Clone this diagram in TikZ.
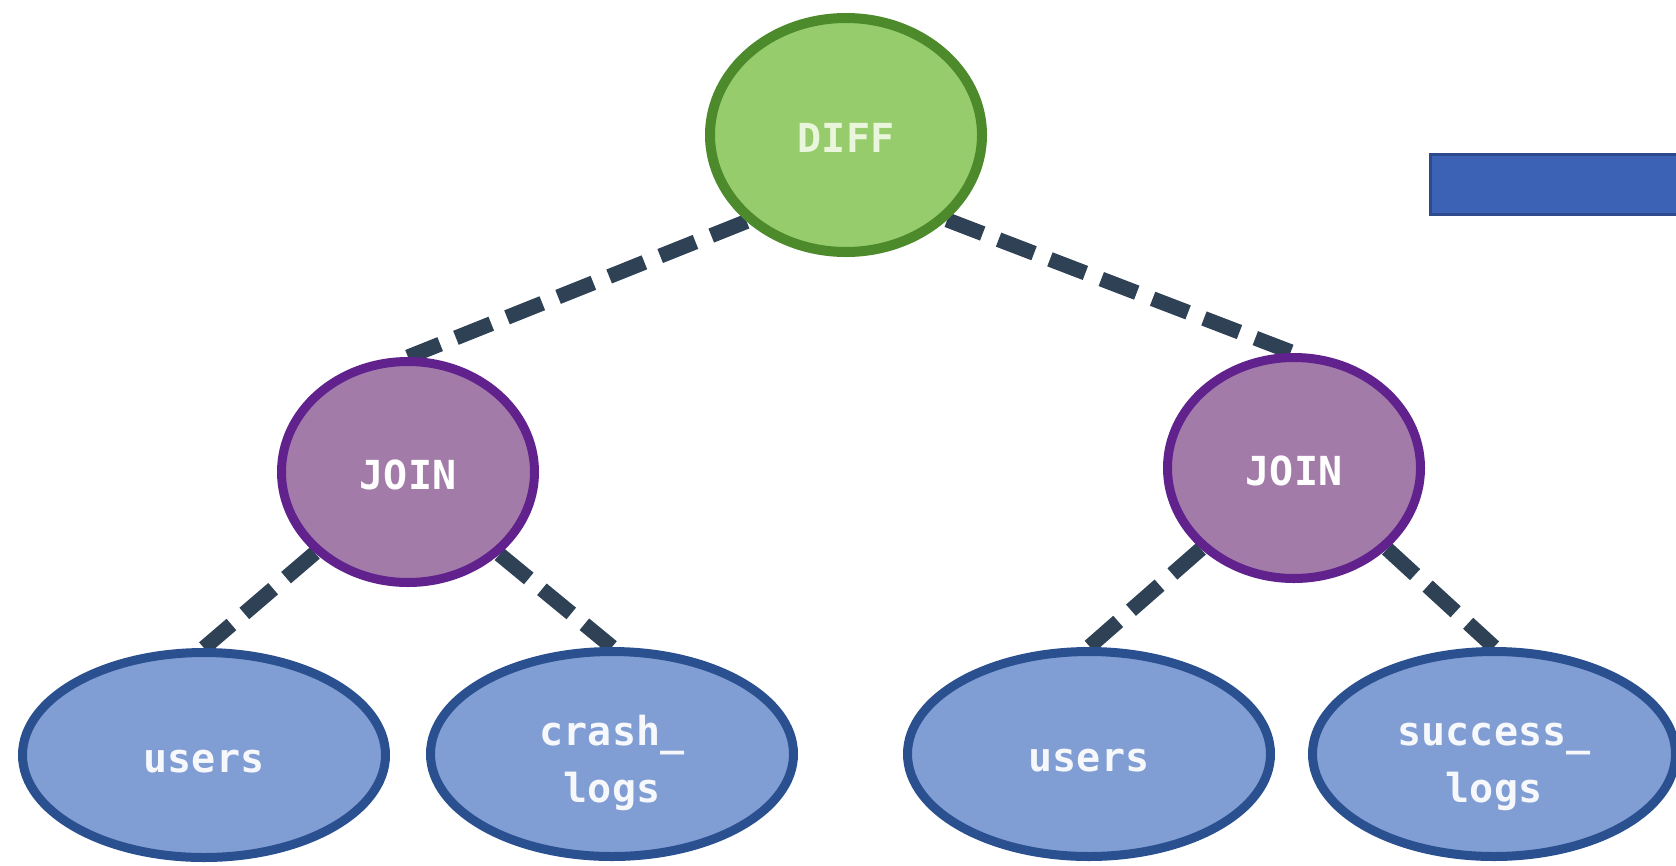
\documentclass[tikz,border=0pt]{standalone}
\usepackage{fontspec}
\newfontfamily\monofont{DejaVu Sans Mono}
\usetikzlibrary{shapes.geometric,backgrounds}
\definecolor{diffFill}{HTML}{96CC6C}
\definecolor{diffLine}{HTML}{4C8A2C}
\definecolor{diffText}{HTML}{EAF6DC}
\definecolor{joinFill}{HTML}{A27BA8}
\definecolor{joinLine}{HTML}{62228E}
\definecolor{tabFill}{HTML}{819ED4}
\definecolor{tabLine}{HTML}{2A5090}
\definecolor{barFill}{HTML}{3C62B6}
\definecolor{barLine}{HTML}{2D4A8C}
\definecolor{edgeCol}{HTML}{2E4155}
\tikzset{
  opnode/.style={ellipse, inner sep=0pt,
    font=\monofont\bfseries\fontsize{40}{48}\selectfont,
    text height=34pt, text depth=0pt},
  diffnode/.style={opnode, fill=diffFill, draw=diffLine, line width=10pt,
    minimum width=272pt, minimum height=234pt, text=diffText},
  joinnode/.style={opnode, fill=joinFill, draw=joinLine, line width=9pt,
    minimum width=253pt, minimum height=221pt, text=white},
  tabnode/.style={opnode, fill=tabFill, draw=tabLine, line width=9pt,
    minimum width=363pt, minimum height=205pt, text=white!93!tabFill},
  twoline/.style={text height=30pt, text depth=48pt},
  edge/.style={draw=edgeCol, line width=15pt, dash pattern=on 38pt off 17pt},
}
\begin{document}
\begin{tikzpicture}[x=1pt,y=-1pt]
\useasboundingbox (0,0) rectangle (1676,865);
\node[diffnode] (diff) at (846,135) {DIFF};
\node[joinnode] (joinL) at (408,472) {JOIN};
\node[joinnode] (joinR) at (1294,468) {JOIN};
\node[tabnode] (usersL) at (204,755) {users};
\node[tabnode, twoline] (crash) at (612,754)
  {\begin{tabular}[t]{@{}c@{}}crash\_\\[9pt]logs\end{tabular}};
\node[tabnode] (usersR) at (1089,754) {users};
\node[tabnode, twoline] (success) at (1494,754)
  {\begin{tabular}[t]{@{}c@{}}success\_\\[9pt]logs\end{tabular}};
\node[draw=barLine, fill=barFill, line width=3pt, minimum width=260pt,
  minimum height=60pt, inner sep=0pt, anchor=north west] (bar) at (1429,153) {};
\begin{pgfonlayer}{background}
\fill[white] (0,0) rectangle (1676,865);
\draw[edge] (diff.221) -- (joinL.north);
\draw[edge] (diff.320) -- (joinR.north);
\draw[edge] (joinL.221) -- (usersL.north);
\draw[edge] (joinL.318) -- (crash.north);
\draw[edge] (joinR.221) -- (usersR.north);
\draw[edge] (joinR.319) -- (success.north);
\end{pgfonlayer}
\end{tikzpicture}
\end{document}
